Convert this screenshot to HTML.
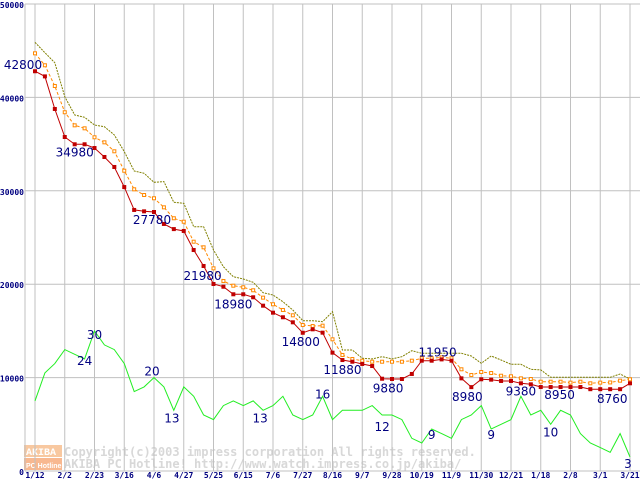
<!DOCTYPE html>
<html><head><meta charset="utf-8"><style>
html,body{margin:0;padding:0;background:#fff;}
svg{display:block;}
.ax{font-family:"DejaVu Sans Mono","Liberation Mono",monospace;font-size:8px;font-weight:bold;fill:#000080;}
.lb{font-family:"DejaVu Sans","Liberation Sans",sans-serif;font-size:12px;fill:#000080;}
.wm{font-family:"DejaVu Sans Mono","Liberation Mono",monospace;font-size:12px;font-weight:bold;fill:#d8d8d8;}
</style></head><body>
<svg id="chart" width="640" height="480"></svg>
<script>
const xLabels=["1/12","2/2","2/23","3/16","4/6","4/27","5/25","6/15","7/6","7/27","8/16","9/7","9/28","10/19","11/9","11/30","12/21","1/18","2/8","3/1","3/21"];
const yTicks=[0,10000,20000,30000,40000,50000];
const minPrice=[42800,42250,38760,35760,34980,34980,34580,33620,32550,30400,27950,27800,27730,26450,25900,25700,23660,21950,20020,19730,18920,18920,18600,17700,16950,16460,15920,14800,15170,14810,12670,11880,11700,11460,11240,9880,9850,9850,10390,11810,11810,11950,11810,9920,8980,9820,9780,9640,9640,9390,9280,8990,8990,8990,8990,8990,8760,8760,8760,8760,9390];
const avgPrice=[44720,43440,41220,38410,37010,36690,35730,35190,34230,32150,30160,29550,29200,28230,27060,26690,24550,23950,21700,20340,19840,19670,19350,18560,17850,17240,16670,15630,15520,15560,14100,12420,11990,11810,11700,11700,11700,11700,11810,12070,12070,12170,12070,10890,10280,10600,10490,10200,10140,9920,9850,9560,9560,9560,9460,9560,9390,9460,9480,9670,9820];
const maxPrice=[45900,44790,43720,40080,38120,37870,37050,36860,35980,34190,32120,31870,30910,30980,28770,28660,26160,26160,23660,21870,20800,20560,20200,19090,18840,18130,17240,16090,16090,15990,17060,12960,12960,12070,12000,12240,12000,12240,12880,12600,12600,12600,12600,12600,12310,11530,12310,11880,11420,11420,10890,10820,10030,10030,10030,10030,10030,10030,10030,10390,9850];
const shopCount=[15,21,23,26,25,24,30,27,26,23,17,18,20,18,13,18,16,12,11,14,15,14,15,13,14,16,12,11,12,16,11,13,13,13,14,12,12,11,7,6,9,8,7,11,12,14,9,10,11,16,12,13,10,13,12,8,6,5,4,8,3];
const priceLabels=[[0,"42800",-12,-2],[4,"34980",0,12],[12,"27780",-2,12],[17,"21980",-1,14],[20,"18980",0,14],[27,"14800",-2,13],[31,"11880",0,14],[35,"9880",6,14],[41,"11950",-4,-3],[44,"8980",-4,14],[49,"9380",0,12],[53,"8950",-1,12],[57,"8760",12,14]];
const countLabels=[[6,"30",0,8],[5,"24",0,6],[12,"20",-2,-2],[14,"13",-2,12],[23,"13",-3,12],[29,"16",0,2],[35,"12",0,16],[40,"9",0,10],[46,"9",0,10],[52,"10",0,12],[60,"3",-2,11]];

const NS="http://www.w3.org/2000/svg";
const svg=document.getElementById('chart');
const X0=35,X1=630,Y0=471,Y1=4,N=minPrice.length;
function xi(i){return X0+i*(X1-X0)/(N-1);}
function yv(v){return Y0-(v/50000)*(Y0-Y1);}
function yc(c){return yv(c*500);}
function mk(t,a,p){const e=document.createElementNS(NS,t);for(const k in a)e.setAttribute(k,a[k]);(p||svg).appendChild(e);return e;}

const wmg=mk('g',{});


mk('rect',{x:24,y:445,width:38,height:12,fill:'#f8c8a0'},wmg);
mk('rect',{x:24,y:458,width:38,height:12,fill:'#f8b890'},wmg);
let t=mk('text',{x:26,y:455,'font-size':10,'font-family':'Liberation Mono,monospace','font-weight':'bold',fill:'#fff'},wmg);t.textContent='AKIBA';
t=mk('text',{x:26,y:468,'font-size':7,'font-family':'Liberation Sans,sans-serif','font-weight':'bold',fill:'#fff'},wmg);t.textContent='PC Hotline!';
t=mk('text',{x:64,y:456,class:'wm'},wmg);t.textContent='Copyright(c)2003 impress corporation All rights reserved.';
t=mk('text',{x:64,y:468,class:'wm'},wmg);t.textContent='AKIBA PC Hotline!  http://www.watch.impress.co.jp/akiba/';

for(let j=0;j<xLabels.length;j++){
  const x=X0+j*(X1-X0)/(xLabels.length-1);
  const g=mk('line',{x1:x,x2:x,y1:Y1,y2:Y0,stroke:'#c0c0c0','stroke-width':1});
  
  
  const l=mk('text',{x:x,y:478,class:'ax','text-anchor':'middle'});l.textContent=xLabels[j];
  
  
}
for(const v of yTicks){
  const y=yv(v);
  if(v>0){const g=mk('line',{x1:25,x2:640,y1:y,y2:y,stroke:'#c0c0c0','stroke-width':1});
  
  }
  const l=mk('text',{x:24,y:y+4,class:'ax','text-anchor':'end'});l.textContent=String(v);
  
  
}
mk('line',{x1:25,x2:25,y1:Y1,y2:Y0,stroke:'#c0c0c0'});
mk('line',{x1:25,x2:640,y1:Y0,y2:Y0,stroke:'#c0c0c0'});

function path(arr,f){return arr.map((v,i)=>(i?'L':'M')+xi(i).toFixed(1)+','+f(v).toFixed(1)).join(' ');}
let p=mk('path',{d:path(shopCount,yc),fill:'none',stroke:'#22ee22','stroke-width':1});


p=mk('path',{d:path(maxPrice,yv),fill:'none',stroke:'#808000','stroke-width':1,'stroke-dasharray':'2,1'});


p=mk('path',{d:path(avgPrice,yv),fill:'none',stroke:'#ff8800','stroke-width':1,'stroke-dasharray':'3,2'});


avgPrice.forEach((v,i)=>{const r=mk('rect',{x:xi(i)-1.5,y:yv(v)-1.5,width:3,height:3,fill:'#fff',stroke:'#ff8800','stroke-width':1});

});
p=mk('path',{d:path(minPrice,yv),fill:'none',stroke:'#c00000','stroke-width':1});


minPrice.forEach((v,i)=>{const r=mk('rect',{x:xi(i)-2,y:yv(v)-2,width:4,height:4,fill:'#c00000'});

});

for(const [i,s,dx,dy] of priceLabels){const l=mk('text',{x:xi(i)+dx,y:yv(minPrice[i])+dy,class:'lb','text-anchor':'middle'});l.textContent=s;

}
for(const [i,s,dx,dy] of countLabels){const l=mk('text',{x:xi(i)+dx,y:yc(shopCount[i])+dy,class:'lb','text-anchor':'middle'});l.textContent=s;

}
</script>
</body></html>
